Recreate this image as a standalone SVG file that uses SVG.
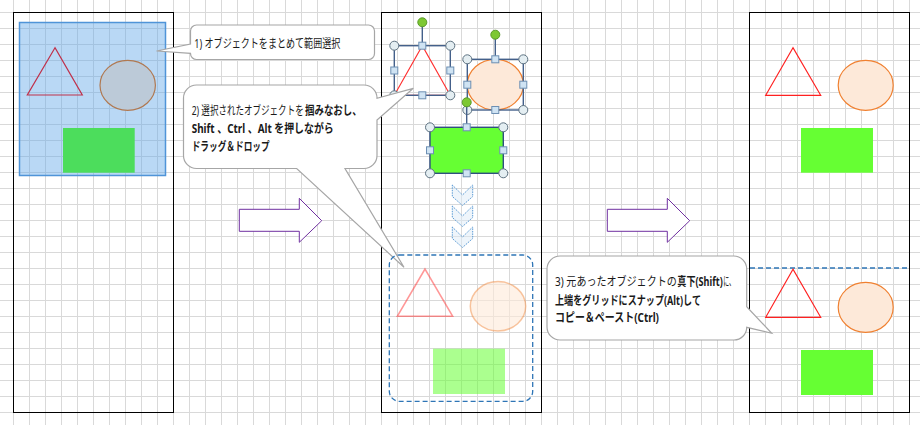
<svg xmlns="http://www.w3.org/2000/svg" xmlns:xlink="http://www.w3.org/1999/xlink" width="920" height="425" viewBox="0 0 920 425">
<style>
.frame{fill:none;stroke:#000;stroke-width:1}
.tri{fill:none;stroke:#ff2020;stroke-width:1.2}
.ell{fill:#fde9d9;stroke:#f08030;stroke-width:1.2}
.grn{fill:#66ff33}
.callout{fill:#fff;stroke:#a6a6a6;stroke-width:1.2}
.txt{font-family:"Noto Sans","Noto Sans CJK JP",sans-serif;font-size:12px;fill:#1a1a1a}
.b{font-weight:bold}
.blk{fill:#fff;stroke:#7030a0;stroke-width:1}
.selbox{fill:none;stroke:#44608a;stroke-width:1.4}
.hc{fill:#e4eef2;stroke:#5f7382;stroke-width:1}
.hs{fill:#cfe3f3;stroke:#6d8fb3;stroke-width:1}
.rot{fill:#7dc832;stroke:#5a9a2a;stroke-width:1}
.rotline{stroke:#44608a;stroke-width:1.4}
.dash{fill:none;stroke:#2e75b6;stroke-width:1.3;stroke-dasharray:5 3}
.chev{fill:#deebf7;fill-opacity:0.5;stroke:#5b9bd5;stroke-width:1;stroke-dasharray:1.5 1}
</style>
<defs>
<pattern id="grid" x="13" y="12" width="16" height="16" patternUnits="userSpaceOnUse">
<path d="M0.5,0V16M0,0.5H16" stroke="#d9d9d9" stroke-width="1" fill="none"/>
</pattern>
<circle id="hc" r="4.5" class="hc"/>
<rect id="hs" x="-3.5" y="-3.5" width="7" height="7" class="hs"/>
<circle id="rot" r="4.5" class="rot"/>
<path id="chev" d="M0,0 L10.2,10 L20.4,0 L20.4,11.5 L10.2,20.5 L0,11.5 Z" class="chev"/>
<path id="blkarrow" d="M0,11 H60 V0 L82.4,22.4 L60,44 V33 H0 Z" class="blk"/>
</defs>

<rect x="0" y="0" width="920" height="425" fill="#fff"/>
<rect x="0" y="0" width="920" height="425" fill="url(#grid)"/>

<!-- Frame 1 -->
<g id="frame1">
<rect class="frame" x="13.5" y="12.5" width="160" height="400"/>
<rect x="19.5" y="22.5" width="146" height="153" fill="rgb(100,168,232)" fill-opacity="0.45" stroke="#4f94d8" stroke-width="1.5"/>
<polygon points="55,47.7 27.3,95 82.3,95" fill="none" stroke="#c0304a" stroke-width="1.2"/>
<ellipse cx="127.7" cy="85.3" rx="27.7" ry="25" fill="#bccad8" stroke="#b07850" stroke-width="1.2"/>
<rect x="63" y="128" width="71.7" height="44.7" fill="#4cdd5c"/>
</g>

<!-- Frame 2 -->
<g id="frame2">
<rect class="frame" x="381.5" y="12.5" width="160" height="400"/>
</g>

<g id="ghost">
<polygon points="425,269 397.3,316.3 452.7,316.3" fill="none" stroke="#ff3030" stroke-opacity="0.5" stroke-width="1.5"/>
<ellipse cx="498" cy="306.3" rx="27.7" ry="24.7" fill="#fde9d9" fill-opacity="0.6" stroke="#f08030" stroke-opacity="0.45" stroke-width="1.5"/>
<rect x="433" y="348.7" width="72" height="45.3" fill="#66ff33" fill-opacity="0.55"/>
</g>

<g id="chevrons">
<use href="#chev" x="452.3" y="185"/>
<use href="#chev" x="452.3" y="206"/>
<use href="#chev" x="452.3" y="227"/>
</g>

<g id="selTriangle">
<polygon points="422.3,45.7 394.3,95.3 450.3,95.3" fill="none" stroke="#ff3030" stroke-width="1.2"/>
<rect class="selbox" x="394.3" y="45.7" width="56" height="49.6"/>
<line class="rotline" x1="422.3" y1="22.3" x2="422.3" y2="45.7"/>
<use href="#rot" x="422.3" y="22.3"/>
<use href="#hc" x="394.3" y="45.7"/><use href="#hc" x="450.3" y="45.7"/>
<use href="#hc" x="394.3" y="95.3"/><use href="#hc" x="450.3" y="95.3"/>
<use href="#hs" x="422.3" y="45.7"/><use href="#hs" x="422.3" y="95.3"/>
<use href="#hs" x="394.3" y="70.5"/><use href="#hs" x="450.3" y="70.5"/>
</g>

<g id="selEllipse">
<ellipse class="ell" cx="495.3" cy="84.7" rx="28" ry="25.3"/>
<rect class="selbox" x="467.3" y="59.3" width="56" height="50.7"/>
<line class="rotline" x1="495.3" y1="34.7" x2="495.3" y2="59.3"/>
<use href="#rot" x="495.3" y="34.7"/>
<use href="#hc" x="467.3" y="59.3"/><use href="#hc" x="523.3" y="59.3"/>
<use href="#hc" x="467.3" y="110"/><use href="#hc" x="523.3" y="110"/>
<use href="#hs" x="495.3" y="59.3"/><use href="#hs" x="495.3" y="110"/>
<use href="#hs" x="467.3" y="84.7"/><use href="#hs" x="523.3" y="84.7"/>
</g>

<g id="selRect">
<rect x="430" y="127.3" width="73.3" height="46" fill="#66ff33" stroke="#2f4f7f" stroke-width="1.4"/>
<line class="rotline" x1="466.7" y1="102.3" x2="466.7" y2="127.3"/>
<use href="#rot" x="466.7" y="102.3"/>
<use href="#hc" x="430" y="127.3"/><use href="#hc" x="503.3" y="127.3"/>
<use href="#hc" x="430" y="173.3"/><use href="#hc" x="503.3" y="173.3"/>
<use href="#hs" x="466.7" y="127.3"/><use href="#hs" x="466.7" y="173.3"/>
<use href="#hs" x="430" y="150.3"/><use href="#hs" x="503.3" y="150.3"/>
</g>

<!-- Frame 3 -->
<g id="frame3">
<rect class="frame" x="749.5" y="12.5" width="160" height="400"/>
<polygon class="tri" points="793,47.7 765.7,95.3 820.7,95.3"/>
<ellipse class="ell" cx="865.7" cy="85.3" rx="27.5" ry="25"/>
<rect class="grn" x="801" y="128" width="72" height="44.7"/>
<line class="dash" x1="750" y1="268" x2="909" y2="268"/>
<polygon class="tri" points="793,269.3 765.7,317.3 820.7,317.3"/>
<ellipse class="ell" cx="865.7" cy="307.3" rx="27.5" ry="25"/>
<rect class="grn" x="801" y="350" width="72" height="45"/>
</g>

<!-- Block arrows -->
<g id="connectors">
<use href="#blkarrow" x="239.3" y="198.3"/>
<use href="#blkarrow" x="607.3" y="198.3"/>
</g>

<!-- Callouts -->
<g id="callout1">
<path class="callout" d="M196.5,25 H368.5 A6,6 0 0 1 374.5,31 V53.5 A6,6 0 0 1 368.5,59.5 H196.5 A6,6 0 0 1 190.5,53.5 V53.3 L156.5,51 L190.5,44 V31 A6,6 0 0 1 196.5,25 Z"/>
<text class="txt" x="194.3" y="47.5" textLength="146" lengthAdjust="spacingAndGlyphs">1) オブジェクトをまとめて範囲選択</text>
</g>

<g id="callout2">
<path class="callout" d="M196.5,85 H364 A13,13 0 0 1 377,98 V98.3 L413.3,88.3 L377,120 V155.5 A13,13 0 0 1 364,168.5 H345 L404,267.3 L296.7,168.5 H196.5 A13,13 0 0 1 183.5,155.5 V98 A13,13 0 0 1 196.5,85 Z"/>
<text class="txt" transform="translate(191.7,115) scale(0.7,1)" x="0" y="0" textLength="160" lengthAdjust="spacingAndGlyphs">2) 選択されたオブジェクトを</text>
<text class="txt b" transform="translate(305,115) scale(0.78,1)" x="0" y="0" textLength="72.7" lengthAdjust="spacingAndGlyphs">掴みなおし、</text>
<text class="txt b" x="191.7" y="133" textLength="142" lengthAdjust="spacingAndGlyphs">Shift 、Ctrl 、Alt を押しながら</text>
<text class="txt b" x="191.7" y="150.5" textLength="78" lengthAdjust="spacingAndGlyphs">ドラッグ＆ドロップ</text>
</g>

<g id="callout3">
<path class="callout" d="M560,256 H733.7 A13,13 0 0 1 746.7,269 V306.7 L771.7,333.3 L746.7,327.3 A12.7,12.7 0 0 1 734,340 H560 A13,13 0 0 1 547,327 V269 A13,13 0 0 1 560,256 Z"/>
<text class="txt" transform="translate(555,286) scale(0.82,1)" x="0" y="0" textLength="148.5" lengthAdjust="spacingAndGlyphs">3) 元あったオブジェクトの</text>
<text class="txt b" transform="translate(677.3,286) scale(0.74,1)" x="0" y="0" textLength="61.4" lengthAdjust="spacingAndGlyphs">真下(Shift)</text>
<text class="txt" transform="translate(723.3,286) scale(0.48,1)" x="0" y="0" textLength="24.4" lengthAdjust="spacingAndGlyphs">に、</text>
<text class="txt b" x="555" y="304.5" textLength="146" lengthAdjust="spacingAndGlyphs">上端をグリッドにスナップ(Alt)して</text>
<text class="txt b" x="555" y="321.5" textLength="104" lengthAdjust="spacingAndGlyphs">コピー＆ペースト(Ctrl)</text>
</g>

<g id="dropOutline">
<rect class="dash" x="389.3" y="255" width="143.4" height="146.3" rx="10"/>
</g>
</svg>
